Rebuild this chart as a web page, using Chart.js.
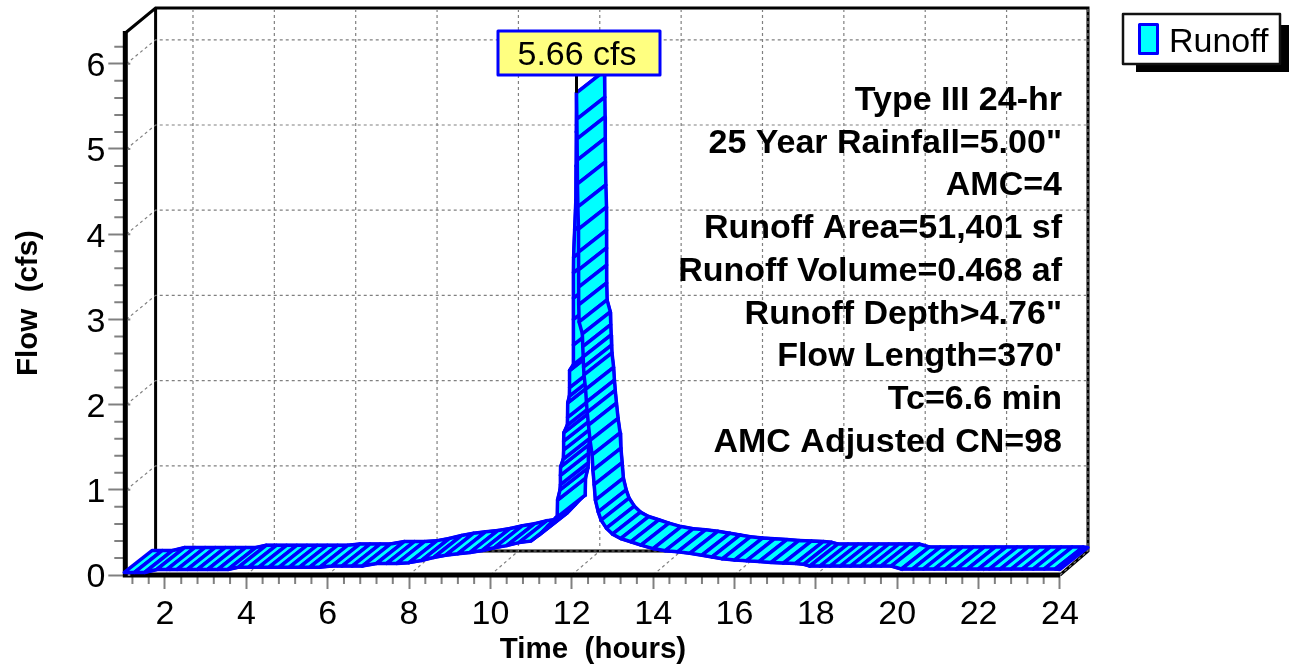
<!DOCTYPE html>
<html>
<head>
<meta charset="utf-8">
<title>Runoff hydrograph</title>
<style>
  html, body { margin: 0; background: #fff; }
  canvas { display: block; }
</style>
<script src="https://cdn.jsdelivr.net/npm/chart.js@4/dist/chart.umd.min.js"></script>
</head>
<body>
<canvas id="chart" width="1290" height="664"></canvas>
<script>
// values
const hours = [
  1, 1.25, 1.5, 1.8, 2.05, 2.3, 2.55, 2.8, 3.05, 3.3, 3.55, 3.8, 4.05, 4.3, 4.55, 4.8, 5.05, 5.3, 5.55, 5.8,
  6.1, 6.35, 6.6, 6.85, 7.2, 7.45, 7.7, 8, 8.3, 8.6, 8.9, 9.2, 9.5, 9.8, 10.1, 10.4, 10.7, 11, 11.2, 11.4, 11.6,
  11.64, 11.65, 11.71, 11.72, 11.72, 11.725, 11.79, 11.8, 11.8, 11.805, 11.89, 11.895, 11.9, 11.94, 11.945, 11.945,
  12.04, 12.04, 12.04, 12.04, 12.04, 12.045, 12.07, 12.1, 12.105, 12.11, 12.116,
  12.125, 12.13, 12.135, 12.14, 12.15, 12.166, 12.167, 12.168, 12.169, 12.17, 12.18, 12.26, 12.27, 12.28, 12.29, 12.3,
  12.34, 12.36, 12.38, 12.41, 12.45, 12.5, 12.52, 12.55, 12.58, 12.65,
  12.72, 12.85, 13, 13.2, 13.45, 13.7, 14, 14.3, 14.6, 14.9,
  15.2, 15.45, 15.7, 16, 16.3, 16.6, 16.9, 17.2, 17.5, 17.7,
  17.85, 18.1, 18.35, 18.6, 18.85, 19.1, 19.35, 19.6, 19.85,
  20.1, 20.37, 20.64, 20.91, 21.18, 21.45, 21.72, 21.99, 22.26, 22.53, 22.8, 23.07, 23.34, 23.61, 23.88, 24
];
const flow = [
  0.03, 0.03, 0.03, 0.065, 0.065, 0.065, 0.065, 0.065, 0.065, 0.065, 0.065, 0.09, 0.09, 0.09, 0.09, 0.09, 0.09, 0.09, 0.09, 0.09,
  0.105, 0.105, 0.105, 0.105, 0.135, 0.135, 0.135, 0.145, 0.17, 0.205, 0.232, 0.25, 0.265, 0.288, 0.32, 0.345, 0.38, 0.4, 0.47, 0.57, 0.67,
  0.68, 0.88, 1, 1.06, 1.17, 1.27, 1.36, 1.47, 1.57, 1.67, 1.76, 1.85, 2.02, 2.1, 2.2, 2.4,
  2.47, 2.7, 3, 3.25, 3.55, 3.73, 4.05, 4.4, 4.8, 5.2, 5.66,
  5.35, 5.12, 4.87, 4.59, 4.32, 4.06, 3.79, 3.58, 3.38, 3.17, 2.97, 2.83, 2.68, 2.56, 2.44, 2.35,
  2.18, 2.03, 1.91, 1.76, 1.58, 1.41, 1.23, 1.06, 0.88, 0.74,
  0.645, 0.55, 0.48, 0.428, 0.39, 0.35, 0.31, 0.285, 0.272, 0.255,
  0.232, 0.212, 0.19, 0.176, 0.168, 0.158, 0.148, 0.14, 0.135, 0.125,
  0.105, 0.105, 0.105, 0.105, 0.105, 0.105, 0.105, 0.105, 0.105,
  0.07, 0.07, 0.07, 0.07, 0.07, 0.07, 0.07, 0.07, 0.07, 0.07, 0.07, 0.07, 0.07, 0.07, 0.07, 0.065
];
const xTicks = [2, 4, 6, 8, 10, 12, 14, 16, 18, 20, 22, 24];
const yTicks = [0, 1, 2, 3, 4, 5, 6];
const xMinorStep = 0.4;
const yMinorStep = 0.2;
const statsLines = [
  'Type III 24-hr', '25 Year Rainfall=5.00"', 'AMC=4', 'Runoff Area=51,401 sf', 'Runoff Volume=0.468 af',
  'Runoff Depth>4.76"', "Flow Length=370'", 'Tc=6.6 min', 'AMC Adjusted CN=98'
];
const peakLabel = '5.66 cfs';
const seriesName = 'Runoff';

const FONT = '"Liberation Sans", Arial, sans-serif';
const BLUE = '#0000ff';
const CYAN = '#00ffff';
const GRAY = '#808080';

// chart area: front plane plus the room the back wall needs
const plotLeft = 124.3, plotRight = 1088, plotTop = 8, plotBottom = 575;
const pxPerHour = 40.68, pxPerCfs = 85.2;
const xMax = 1 + (plotRight - plotLeft) / pxPerHour;
const yMax = (plotBottom - plotTop) / pxPerCfs;
// ribbon depth in pixels, wall depth is a bit bigger
const ribbonDx = 28, ribbonDy = 22;
const wallDx = 28, wallDy = 24;
const backWallLeft = 155.6;
const axisTop = 33;

const points = hours.map((h, i) => ({ x: h, y: flow[i] }));

const depthChart = {
  id: 'depthChart',
  // walls, dotted grid and the heavy axis lines
  beforeDatasetsDraw(chart) {
    const { ctx, scales: { x, y } } = chart;
    const floor = plotBottom - wallDy;
    ctx.save();

    ctx.strokeStyle = '#000';
    ctx.lineWidth = 3;
    ctx.beginPath();
    ctx.moveTo(plotLeft + 1, axisTop);
    ctx.lineTo(backWallLeft, plotTop);
    ctx.lineTo(plotRight, plotTop);
    ctx.lineTo(plotRight, floor);
    ctx.lineTo(x.getPixelForValue(24), plotBottom);
    ctx.moveTo(backWallLeft, plotTop);
    ctx.lineTo(backWallLeft, floor);
    ctx.lineTo(plotRight, floor);
    ctx.stroke();

    ctx.strokeStyle = GRAY;
    ctx.lineWidth = 1.2;
    ctx.setLineDash([3, 3]);
    ctx.beginPath();
    xTicks.forEach(v => {
      const px = x.getPixelForValue(v);
      ctx.moveTo(px, plotBottom);
      ctx.lineTo(px + wallDx, floor);
      ctx.lineTo(px + wallDx, plotTop);
    });
    yTicks.forEach(v => {
      if (v === 0) return;
      const py = y.getPixelForValue(v);
      ctx.moveTo(plotLeft + 2, py);
      ctx.lineTo(backWallLeft, py - wallDy);
      ctx.lineTo(plotRight, py - wallDy);
    });
    ctx.moveTo(backWallLeft, floor);
    ctx.lineTo(plotRight, floor);
    ctx.stroke();
    ctx.setLineDash([]);

    // minor ticks
    ctx.strokeStyle = GRAY;
    ctx.lineWidth = 2;
    ctx.beginPath();
    for (let v = 2 - 2 * xMinorStep; v < 24; v += xMinorStep) {
      if (xTicks.some(t => Math.abs(t - v) < 0.01)) continue;
      const px = x.getPixelForValue(v);
      ctx.moveTo(px, plotBottom);
      ctx.lineTo(px, plotBottom + 9);
    }
    for (let v = yMinorStep; v < 6.3; v += yMinorStep) {
      if (yTicks.some(t => Math.abs(t - v) < 0.01)) continue;
      const py = y.getPixelForValue(v);
      ctx.moveTo(plotLeft, py);
      ctx.lineTo(plotLeft - 10, py);
    }
    ctx.stroke();

    ctx.strokeStyle = '#000';
    ctx.lineWidth = 5;
    ctx.lineCap = 'butt';
    ctx.beginPath();
    ctx.moveTo(plotLeft + 1, axisTop - 2);
    ctx.lineTo(plotLeft + 1, plotBottom + 2.5);
    ctx.moveTo(plotLeft + 1, plotBottom);
    ctx.lineTo(x.getPixelForValue(24), plotBottom);
    ctx.stroke();

    // major y ticks poke through the axis
    ctx.strokeStyle = GRAY;
    ctx.lineWidth = 2;
    ctx.beginPath();
    yTicks.forEach(v => {
      const py = y.getPixelForValue(v);
      ctx.moveTo(plotLeft + 3.5, py);
      ctx.lineTo(plotLeft + 6, py);
    });
    ctx.stroke();
    ctx.restore();
  },
  // ribbon is drawn quad by quad, oldest first, so the falling limb covers the rising one
  afterDatasetsDraw(chart) {
    const { ctx } = chart;
    const front = chart.getDatasetMeta(0).data;
    const back = chart.getDatasetMeta(1).data;
    ctx.save();
    ctx.fillStyle = CYAN;
    ctx.strokeStyle = BLUE;
    ctx.lineWidth = 3.5;
    ctx.lineJoin = 'round';
    for (let i = 0; i < front.length - 1; i++) {
      ctx.beginPath();
      ctx.moveTo(front[i].x, front[i].y);
      ctx.lineTo(front[i + 1].x, front[i + 1].y);
      ctx.lineTo(back[i + 1].x, back[i + 1].y);
      ctx.lineTo(back[i].x, back[i].y);
      ctx.closePath();
      ctx.fill();
      ctx.stroke();
    }

    // peak callout
    const peak = front[flow.indexOf(Math.max(...flow))];
    ctx.strokeStyle = '#000';
    ctx.lineWidth = 3;
    ctx.beginPath();
    ctx.moveTo(peak.x, 75);
    ctx.lineTo(peak.x, peak.y);
    ctx.stroke();
    ctx.fillStyle = '#ffff80';
    ctx.strokeStyle = BLUE;
    ctx.lineWidth = 3;
    ctx.fillRect(498, 31, 162, 44);
    ctx.strokeRect(498, 31, 162, 44);
    ctx.fillStyle = '#000';
    ctx.font = '34px ' + FONT;
    ctx.textAlign = 'center';
    ctx.textBaseline = 'alphabetic';
    ctx.fillText(peakLabel, 577, 65);

    // stats block
    ctx.font = 'bold 34px ' + FONT;
    ctx.textAlign = 'right';
    statsLines.forEach((line, i) => {
      ctx.fillText(line, 1062, 110 + i * 42.7);
    });

    // axis titles
    ctx.font = 'bold 29.5px ' + FONT;
    ctx.textAlign = 'center';
    ctx.fillText('Time  (hours)', 593, 658);
    ctx.save();
    ctx.translate(37, 303);
    ctx.rotate(-Math.PI / 2);
    ctx.fillText('Flow  (cfs)', 0, 0);
    ctx.restore();

    // legend
    ctx.fillStyle = '#000';
    ctx.fillRect(1136, 25, 153, 47);
    ctx.fillStyle = '#fff';
    ctx.fillRect(1123, 14, 157, 50);
    ctx.strokeStyle = '#111';
    ctx.lineWidth = 2.5;
    ctx.strokeRect(1123, 14, 157, 50);
    ctx.fillStyle = CYAN;
    ctx.strokeStyle = BLUE;
    ctx.lineWidth = 3;
    ctx.fillRect(1139.5, 24.5, 18, 29);
    ctx.strokeRect(1139.5, 24.5, 18, 29);
    ctx.fillStyle = '#000';
    ctx.font = '34px ' + FONT;
    ctx.textAlign = 'left';
    ctx.fillText(seriesName, 1169, 51.5);
    ctx.restore();
  }
};

new Chart(document.querySelector('#chart'), {
  type: 'line',
  data: {
    datasets: [
      { label: seriesName, data: points, xAxisID: 'x', yAxisID: 'y', borderColor: BLUE, backgroundColor: CYAN, borderWidth: 3, pointRadius: 0, clip: false },
      { label: seriesName + ' back', data: points, xAxisID: 'xBack', yAxisID: 'yBack', borderColor: BLUE, backgroundColor: CYAN, borderWidth: 3, pointRadius: 0, clip: false }
    ]
  },
  options: {
    responsive: false,
    animation: false,
    layout: { padding: { top: plotTop, right: 1290 - plotRight, left: 0, bottom: 0 } },
    plugins: { legend: { display: false }, tooltip: { enabled: false } },
    scales: {
      x: {
        type: 'linear',
        min: 1,
        max: xMax,
        afterBuildTicks: scale => { scale.ticks = xTicks.map(v => ({ value: v })); },
        afterFit: scale => { scale.height = 664 - plotBottom; scale.paddingLeft = 0; scale.paddingRight = 0; },
        border: { display: false },
        grid: { drawOnChartArea: false, tickLength: 14, tickColor: GRAY, tickWidth: 2 },
        ticks: { color: '#000', font: { family: FONT, size: 34 }, padding: 5, maxRotation: 0, autoSkip: false }
      },
      y: {
        min: 0,
        max: yMax,
        afterBuildTicks: scale => { scale.ticks = yTicks.map(v => ({ value: v })); },
        afterFit: scale => { scale.width = plotLeft; scale.paddingTop = 0; scale.paddingBottom = 0; },
        border: { display: false },
        grid: { drawOnChartArea: false, tickLength: 16, tickColor: GRAY, tickWidth: 2 },
        ticks: { color: '#000', font: { family: FONT, size: 34 }, padding: 3, labelOffset: 3, autoSkip: false }
      },
      // same pixels as x and y, shifted to the back of the ribbon
      xBack: { type: 'linear', display: false, min: 1 - ribbonDx / pxPerHour, max: xMax - ribbonDx / pxPerHour },
      yBack: { display: false, min: -ribbonDy / pxPerCfs, max: yMax - ribbonDy / pxPerCfs }
    }
  },
  plugins: [depthChart]
});
</script>
</body>
</html>
